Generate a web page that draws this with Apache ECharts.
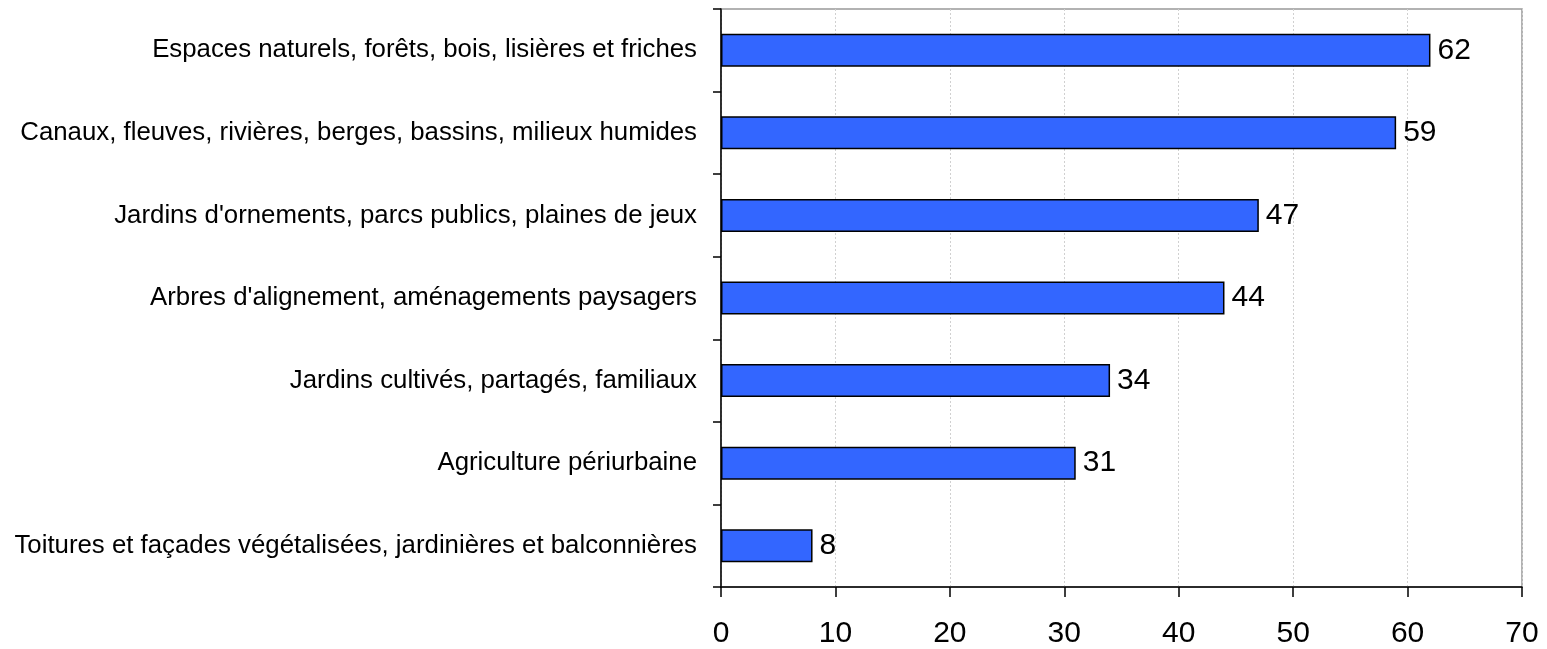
<!DOCTYPE html>
<html>
<head>
<meta charset="utf-8">
<script src="https://cdn.jsdelivr.net/npm/echarts@6/dist/echarts.min.js"></script>
<style>
  html, body { margin: 0; padding: 0; background: #fff; }
  #chart { width: 1547px; height: 649px; }
</style>
</head>
<body>
<div id="chart"></div>
<script>
// catégories, du haut vers le bas
var categories = [
    'Espaces naturels, forêts, bois, lisières et friches',
    'Canaux, fleuves, rivières, berges, bassins, milieux humides',
    "Jardins d'ornements, parcs publics, plaines de jeux",
    "Arbres d'alignement, aménagements paysagers",
    'Jardins cultivés, partagés, familiaux',
    'Agriculture périurbaine',
    'Toitures et façades végétalisées, jardinières et balconnières'
];
var values = [62, 59, 47, 44, 34, 31, 8];

var chart = echarts.init(document.getElementById('chart'));

var option = {
    animation: false,
    textStyle: { fontFamily: 'Liberation Sans, Arial, sans-serif' },
    grid: {
        left: 721, right: 25, top: 9, bottom: 61,
        show: true,
        borderColor: '#999',
        borderWidth: 1.5
    },
    xAxis: {
        type: 'value',
        min: 0, max: 70, interval: 10,
        axisLine: { show: true, lineStyle: { color: '#000', width: 1.5 } },
        axisTick: { show: true, length: 10, lineStyle: { color: '#000', width: 1.5 } },
        axisLabel: { color: '#000', fontSize: 30, margin: 32 },
        splitLine: { show: true, lineStyle: { color: '#d0d0d0', width: 1, type: [2, 2] } }
    },
    yAxis: {
        type: 'category',
        data: categories,
        inverse: true,
        axisLine: { show: true, lineStyle: { color: '#000', width: 1.5 } },
        axisTick: { show: true, length: 8, lineStyle: { color: '#000', width: 1.5 } },
        axisLabel: { color: '#000', fontSize: 25.8, margin: 24 },
        splitLine: { show: false }
    },
    series: [{
        type: 'bar',
        data: values,
        barWidth: '40%',
        itemStyle: { color: '#3366FF', borderColor: '#000', borderWidth: 1.5 },
        label: {
            show: true,
            position: 'right',
            distance: 7,
            color: '#000',
            fontSize: 30
        }
    }]
};
chart.setOption(option);
</script>
</body>
</html>
